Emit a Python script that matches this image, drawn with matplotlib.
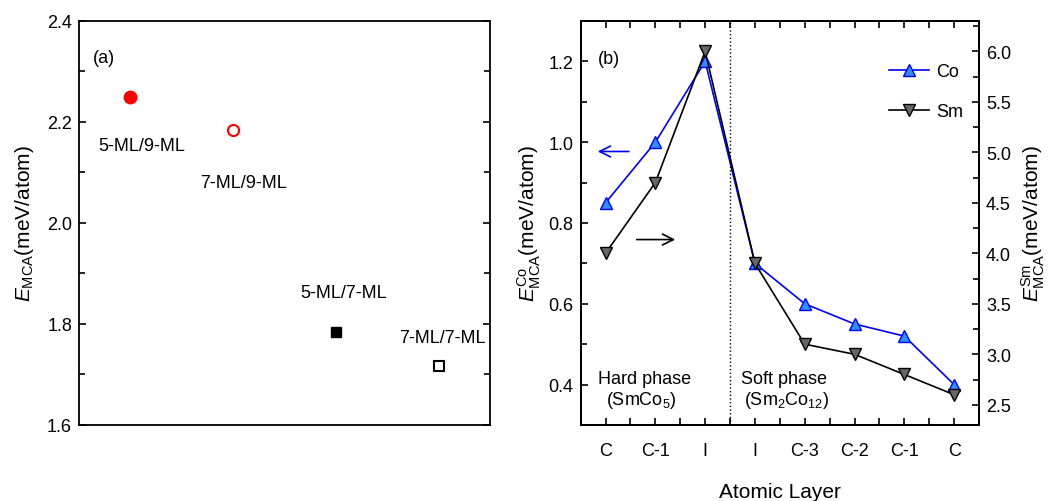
import matplotlib
matplotlib.use('Agg')
import matplotlib.pyplot as plt
from matplotlib.ticker import MultipleLocator, NullLocator

plt.rcParams['font.family'] = ['Liberation Sans', 'DejaVu Sans']
plt.rcParams['mathtext.fontset'] = 'custom'
plt.rcParams['mathtext.rm'] = 'Liberation Sans'
plt.rcParams['mathtext.it'] = 'Liberation Sans:italic'
plt.rcParams['font.size'] = 13

# panel (a) data
a_labels = ['5-ML/9-ML', '7-ML/9-ML', '5-ML/7-ML', '7-ML/7-ML']
a_values = [2.25, 2.184, 1.784, 1.717]

# panel (b) data
layers = ['C', 'C-1', 'I', 'I', 'C-3', 'C-2', 'C-1', 'C']
co_values = [0.85, 1.00, 1.20, 0.70, 0.60, 0.55, 0.52, 0.40]
sm_values = [4.0, 4.7, 6.0, 3.9, 3.1, 3.0, 2.8, 2.6]

fig = plt.figure(figsize=(10.59, 5.02), dpi=100)
ax1 = fig.add_axes([0.0746, 0.1514, 0.3881, 0.8048])
ax2 = fig.add_axes([0.5483, 0.1514, 0.3762, 0.8048])

for ax in (ax1, ax2):
    for s in ax.spines.values():
        s.set_linewidth(1.3)

# ---- (a)
xa = [1, 2, 3, 4]
ax1.plot(xa[0], a_values[0], 'o', color='red', ms=9)
ax1.plot(xa[1], a_values[1], 'o', mfc='white', mec='red', mew=1.5, ms=8)
ax1.plot(xa[2], a_values[2], 's', color='black', ms=6.5)
ax1.plot(xa[3], a_values[3], 's', mfc='white', mec='black', mew=1.5, ms=7)

label_pos = [(1.111, 2.154), (2.099, 2.081), (3.071, 1.862), (4.035, 1.773)]
for lab, (x, y) in zip(a_labels, label_pos):
    ax1.text(x, y, lab, ha='center', va='center', fontsize=13)
ax1.text(0.636, 2.327, '(a)', ha='left', va='center', fontsize=13)

ax1.set_xlim(0.5, 4.5)
ax1.set_ylim(1.6, 2.4)
ax1.xaxis.set_major_locator(NullLocator())
ax1.yaxis.set_major_locator(MultipleLocator(0.2))
ax1.yaxis.set_minor_locator(MultipleLocator(0.1))
ax1.tick_params(axis='y', which='both', direction='in', left=True, right=True,
                labelsize=13, width=1.2, pad=5)
ax1.tick_params(axis='y', which='major', length=5)
ax1.tick_params(axis='y', which='minor', length=4)
ax1.set_ylabel(r'$E_{\mathrm{MCA}}$(meV/atom)', fontsize=15, labelpad=8)

# ---- (b)
xb = list(range(1, len(layers) + 1))
ax3 = ax2.twinx()
l1, = ax2.plot(xb, co_values, '-', color='#0000FF', lw=1.2, marker='^', ms=9,
               mfc='#2E8FFF', mec='#0000FF', mew=1, label='Co')
l2, = ax3.plot(xb, sm_values, '-', color='black', lw=1.2, marker='v', ms=9,
               mfc='#666666', mec='black', mew=1, label='Sm')
ax2.axvline(3.5, color='black', ls=':', lw=1)

ax2.set_xlim(0.5, 8.5)
ax2.set_ylim(0.3, 1.3)
ax3.set_ylim(2.3, 6.3)
ax2.set_xticks(xb)
ax2.set_xticklabels(layers)
ax2.xaxis.set_minor_locator(MultipleLocator(0.5))
ax2.yaxis.set_major_locator(MultipleLocator(0.2))
ax2.yaxis.set_minor_locator(MultipleLocator(0.1))
ax3.yaxis.set_major_locator(MultipleLocator(0.5))
ax3.yaxis.set_minor_locator(MultipleLocator(0.25))
ax2.tick_params(axis='x', which='both', direction='in', top=True, bottom=True,
                length=5, width=1.2, labelsize=13, pad=12)
ax2.tick_params(axis='y', which='both', direction='in', left=True, right=False,
                width=1.2, labelsize=13, pad=5)
ax2.tick_params(axis='y', which='major', length=5)
ax2.tick_params(axis='y', which='minor', length=4)
ax3.tick_params(axis='y', which='both', direction='in', width=1.2, labelsize=13, pad=5)
ax3.tick_params(axis='y', which='major', length=5)
ax3.tick_params(axis='y', which='minor', length=4)
for s in ax3.spines.values():
    s.set_linewidth(1.3)

ax2.set_xlabel('Atomic Layer', fontsize=15, labelpad=17)
ax2.set_ylabel(r'$E^{\mathrm{Co}}_{\mathrm{MCA}}$(meV/atom)', fontsize=15, labelpad=4)
ax3.set_ylabel(r'$E^{\mathrm{Sm}}_{\mathrm{MCA}}$(meV/atom)', fontsize=15, labelpad=6)

ax2.text(0.847, 1.208, '(b)', ha='left', va='center', fontsize=13)
ax2.text(0.85, 0.416, 'Hard phase', ha='left', va='center', fontsize=13)
ax2.text(1.71, 0.362, r'(SmCo$_5$)', ha='center', va='center', fontsize=13)
ax2.text(3.72, 0.416, 'Soft phase', ha='left', va='center', fontsize=13)
ax2.text(4.64, 0.362, r'(Sm$_2$Co$_{12}$)', ha='center', va='center', fontsize=13)

arrow_style = '->,head_length=0.6,head_width=0.3'
ax2.annotate('', xy=(0.787, 0.977), xytext=(1.524, 0.977),
             arrowprops=dict(arrowstyle=arrow_style, color='#0000FF', lw=1.2))
ax2.annotate('', xy=(2.454, 0.759), xytext=(1.57, 0.759),
             arrowprops=dict(arrowstyle=arrow_style, color='black', lw=1.2))

ax3.legend([l1, l2], ['Co', 'Sm'], loc='upper right', bbox_to_anchor=(1.0, 0.935),
           frameon=False, fontsize=13, handlelength=2.2, handletextpad=0.4,
           labelspacing=1.25)

fig.savefig('out.png', dpi=100)
